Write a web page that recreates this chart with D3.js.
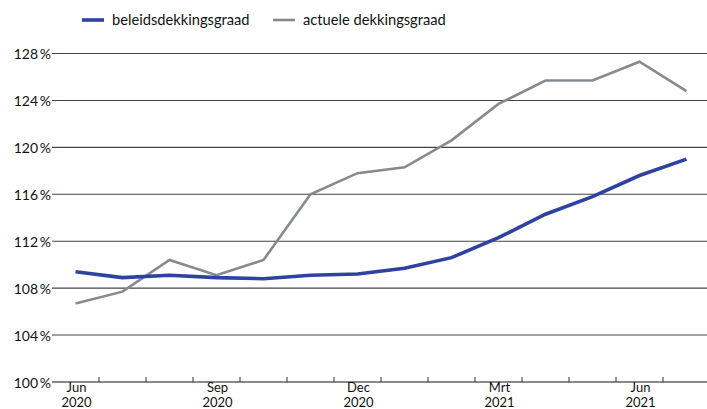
<!DOCTYPE html>
<html>
<head>
<meta charset="utf-8">
<script src="https://d3js.org/d3.v7.min.js"></script>
<title>Dekkingsgraad</title>
<style>
body { margin: 0; background: #fff; }
text { font-family: Lato, "Open Sans", sans-serif; fill: #111; }
</style>
</head>
<body>
<svg id="canvas" width="707" height="409"></svg>
<script>
// months shown on the x axis (one band per month)
var months = ["Jun 2020", "Jul 2020", "Aug 2020", "Sep 2020", "Oct 2020", "Nov 2020", "Dec 2020",
              "Jan 2021", "Feb 2021", "Mrt 2021", "Apr 2021", "May 2021", "Jun 2021", "Jul 2021"];
var labelled = {"Jun 2020": ["Jun", "2020"], "Sep 2020": ["Sep", "2020"], "Dec 2020": ["Dec", "2020"],
                "Mrt 2021": ["Mrt", "2021"], "Jun 2021": ["Jun", "2021"]};
var beleids = [109.4, 108.9, 109.1, 108.9, 108.8, 109.1, 109.2, 109.7, 110.6, 112.3, 114.3, 115.8, 117.6, 119.0];
var actueel = [106.7, 107.7, 110.4, 109.1, 110.4, 116.0, 117.8, 118.3, 120.6, 123.7, 125.7, 125.7, 127.3, 124.8];
var yTicks = [100, 104, 108, 112, 116, 120, 124, 128];

var svg = d3.select("#canvas");
var plotLeft = 52, plotRight = 710, plotTop = 53.5, plotBottom = 382;

var x = d3.scaleBand().domain(months).range([plotLeft, plotRight]);
var y = d3.scaleLinear().domain([100, 128]).range([plotBottom, plotTop]);

// gridlines + y labels
svg.append("g").selectAll("line").data(yTicks.slice(1)).enter()
   .append("line")
   .attr("x1", plotLeft).attr("x2", 707)
   .attr("y1", function(d) { return y(d); }).attr("y2", function(d) { return y(d); })
   .style("stroke", "#444").style("stroke-width", 1.1);

svg.append("g").selectAll("text").data(yTicks).enter()
   .append("text")
   .attr("x", plotLeft - 1).attr("y", function(d) { return y(d) + 5.5; })
   .attr("text-anchor", "end")
   .style("font-size", "14px")
   .text(function(d) { return d + "\u2009%"; });

// x axis line with small upward ticks at band edges
svg.append("line")
   .attr("x1", plotLeft).attr("x2", 707).attr("y1", y(100)).attr("y2", y(100))
   .style("stroke", "#888").style("stroke-width", 2);

svg.append("g").selectAll("line").data(months.slice(1)).enter()
   .append("line")
   .attr("x1", function(d) { return x(d); }).attr("x2", function(d) { return x(d); })
   .attr("y1", y(100)).attr("y2", y(100) - 5)
   .style("stroke", "#333").style("stroke-width", 1);

var xl = svg.append("g").selectAll("text").data(months.filter(function(m) { return labelled[m]; })).enter()
   .append("text")
   .attr("text-anchor", "middle")
   .style("font-size", "13px");
xl.append("tspan").attr("x", function(d) { return x(d) + x.bandwidth() / 2 + 1; }).attr("y", 392)
  .text(function(d) { return labelled[d][0]; });
xl.append("tspan").attr("x", function(d) { return x(d) + x.bandwidth() / 2 + 1; }).attr("y", 407)
  .text(function(d) { return labelled[d][1]; });

// lines
var line = d3.line()
   .x(function(d, i) { return x(months[i]) + x.bandwidth() / 2; })
   .y(function(d) { return y(d); });

svg.append("path").datum(actueel).attr("d", line)
   .style("fill", "none").style("stroke", "#868a90").style("stroke-width", 2.6);
svg.append("path").datum(beleids).attr("d", line)
   .style("fill", "none").style("stroke", "#2e43a0").style("stroke-width", 3.6);

// legend
var legend = [{name: "beleidsdekkingsgraad", color: "#2e43a0", w: 3.6, x: 82},
              {name: "actuele dekkingsgraad", color: "#868a90", w: 2.6, x: 273}];
var lg = svg.append("g").selectAll("g").data(legend).enter().append("g");
lg.append("line")
  .attr("x1", function(d) { return d.x; }).attr("x2", function(d) { return d.x + 22; })
  .attr("y1", 20).attr("y2", 20)
  .style("stroke", function(d) { return d.color; }).style("stroke-width", function(d) { return d.w; });
lg.append("text")
  .attr("x", function(d) { return d.x + 30; }).attr("y", 25)
  .style("font-size", "14.7px")
  .text(function(d) { return d.name; });
</script>
</body>
</html>
